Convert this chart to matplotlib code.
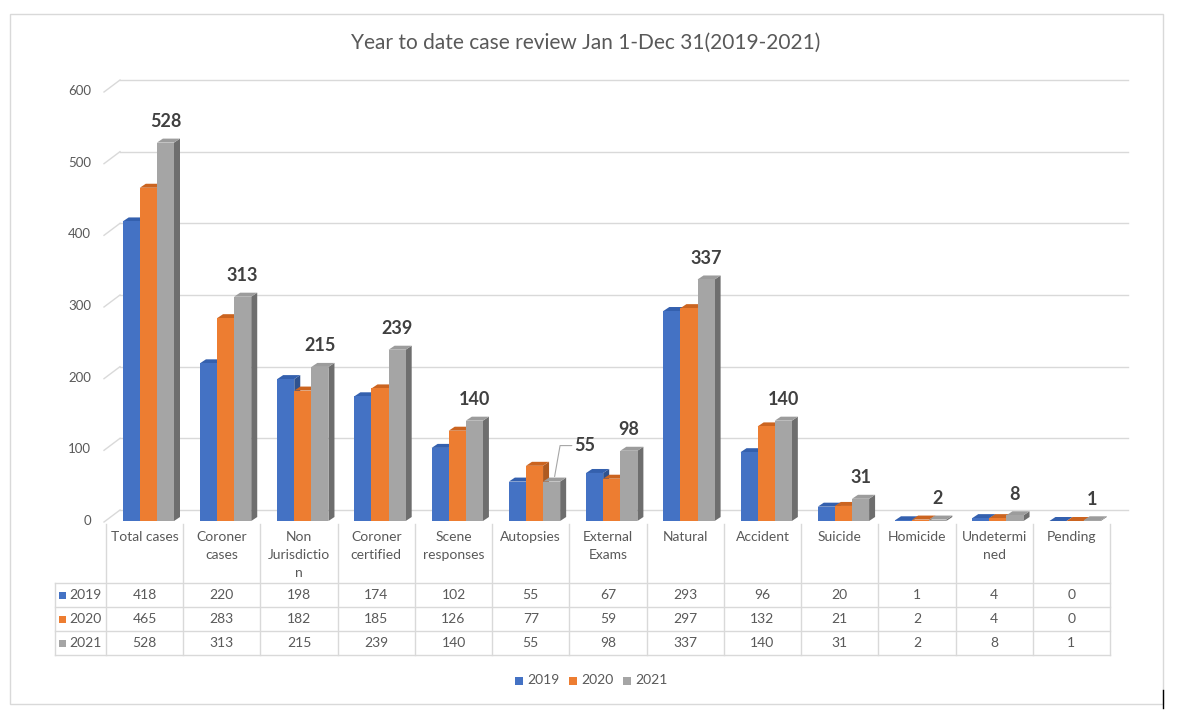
import matplotlib
matplotlib.use('Agg')
import matplotlib.pyplot as plt
from matplotlib.patches import Polygon, Rectangle

plt.rcParams['font.family'] = ['Lato', 'DejaVu Sans']

# ---------------- data ----------------
cat_labels = ["Total cases", "Coroner\ncases", "Non\nJurisdictio\nn", "Coroner\ncertified",
              "Scene\nresponses", "Autopsies", "External\nExams", "Natural", "Accident",
              "Suicide", "Homicide", "Undetermi\nned", "Pending"]
series_names = ["2019", "2020", "2021"]
v2019 = [418, 220, 198, 174, 102, 55, 67, 293, 96, 20, 1, 4, 0]
v2020 = [465, 283, 182, 185, 126, 77, 59, 297, 132, 21, 2, 4, 0]
v2021 = [528, 313, 215, 239, 140, 55, 98, 337, 140, 31, 2, 8, 1]
y_ticks = [0, 100, 200, 300, 400, 500, 600]
title = "Year to date case review Jan 1-Dec 31(2019-2021)"

series = [v2019, v2020, v2021]
front_c = ["#4472C4", "#ED7D31", "#A5A5A5"]
top_c = ["#3460AE", "#CB6420", "#9C9C9C"]
side_c = ["#2F528F", "#AE5A21", "#6E6E6E"]
txt_c = "#595959"
grid_c = "#D9D9D9"

W, H = 1177, 719
fig = plt.figure(figsize=(W / 100, H / 100), dpi=100)

# overlay axes in pixel coordinates
ov = fig.add_axes([0, 0, 1, 1])
ov.set_xlim(0, W)
ov.set_ylim(H, 0)
ov.axis('off')

# geometry (pixels)
X0 = 106.0
CW = (1110.0 - 106.0) / 13
Y0 = 521.0
YT = 91.0
PPV = (Y0 - YT) / 600.0  # pixels per value unit
n = len(cat_labels)

ax = fig.add_axes([X0 / W, (H - Y0) / H, n * CW / W, (Y0 - YT) / H])
ax.set_xlim(0, n)
ax.set_ylim(0, 600)
ax.axis('off')
ax.patch.set_visible(False)

px2x = 1.0 / CW
px2y = 1.0 / PPV

# chart frame
ov.add_patch(Rectangle((10, 14), 1153, 690, fill=False, edgecolor=grid_c, lw=1.0))
ov.plot([1163, 1163], [690, 708], color="black", lw=1.0)

# title
ov.text(586, 43, title, ha='center', va='center', fontsize=15, color=txt_c)

# gridlines on back wall + left diagonal stubs
gx_front = (104 - X0) * px2x
gx_back0 = (120 - X0) * px2x
gx_back1 = (1128 - X0) * px2x
gdy = 11 * px2y
for v in y_ticks:
    ax.plot([gx_front, gx_back0], [v - 1 * px2y, v + gdy], color=grid_c, lw=1.0, clip_on=False, zorder=1)
    ax.plot([gx_back0, gx_back1], [v + gdy, v + gdy], color=grid_c, lw=1.0, clip_on=False, zorder=1)
    ax.text((91 - X0) * px2x, v, str(v), ha='right', va='center', fontsize=9.5, color=txt_c)

# 3D bars
bw = 17.1 * px2x
boff = 16.7 * px2x
ddx = 6 * px2x
ddy = 4 * px2y
for i in range(n):
    for j, vals in enumerate(series):
        v = vals[i]
        x0 = i + boff + j * bw
        z = 3 + j
        side = Polygon([(x0 + bw, 0), (x0 + bw + ddx, ddy), (x0 + bw + ddx, v + ddy), (x0 + bw, v)],
                       closed=True, facecolor=side_c[j], edgecolor='none', zorder=z, clip_on=False)
        top = Polygon([(x0, v), (x0 + bw, v), (x0 + bw + ddx, v + ddy), (x0 + ddx, v + ddy)],
                      closed=True, facecolor=top_c[j], edgecolor='none', zorder=z, clip_on=False)
        ax.add_patch(side)
        ax.add_patch(top)
        ax.bar(x0, v, width=bw, align='edge', color=front_c[j], edgecolor='none', zorder=z + 0.5,
               clip_on=False)

# data labels for 2021
for i, v in enumerate(v2021):
    xc = i + boff + 2.5 * bw
    if i == 5:
        ax.annotate(str(v), xy=(xc + 3 * px2x, v + 5 * px2y), xytext=(20, 31), textcoords='offset pixels',
                    ha='left', va='center', fontsize=13, fontweight='bold', color="#404040",
                    arrowprops=dict(arrowstyle='-', color="#A6A6A6", lw=0.8,
                                    connectionstyle="angle,angleA=0,angleB=80,rad=0",
                                    shrinkA=0, shrinkB=0), zorder=10)
    else:
        ax.annotate(str(v), xy=(xc, v), xytext=(0, 21), textcoords='offset pixels',
                    ha='center', va='center', fontsize=13, fontweight='bold', color="#404040", zorder=10)

# ---------------- data table ----------------
row_tops = [583, 607, 631, 655]
xr = X0 + n * CW
for y in row_tops:
    ov.plot([55, xr], [y, y], color=grid_c, lw=1.0)
for k in range(n + 1):
    ov.plot([X0 + k * CW, X0 + k * CW], [524, 655], color=grid_c, lw=1.0)
ov.plot([55, 55], [583, 655], color=grid_c, lw=1.0)

for i, lab in enumerate(cat_labels):
    ov.text(X0 + (i + 0.5) * CW, 531, lab, ha='center', va='top', fontsize=10, color=txt_c,
            linespacing=1.62)

for j, (name, vals) in enumerate(zip(series_names, series)):
    yc = 595 + 24 * j
    ov.add_patch(Rectangle((59, yc - 3.5), 7, 7, facecolor=front_c[j], edgecolor='none'))
    ov.text(69, yc, name, ha='left', va='center', fontsize=10, color=txt_c)
    for i, v in enumerate(vals):
        ov.text(X0 + (i + 0.5) * CW, yc, str(v), ha='center', va='center', fontsize=10, color=txt_c)

# legend
leg_x = [515, 569, 623]
for j, name in enumerate(series_names):
    ov.add_patch(Rectangle((leg_x[j], 676.5), 8, 8, facecolor=front_c[j], edgecolor='none'))
    ov.text(leg_x[j] + 12, 680.5, name, ha='left', va='center', fontsize=10, color=txt_c)

fig.savefig("out.png", dpi=100)
